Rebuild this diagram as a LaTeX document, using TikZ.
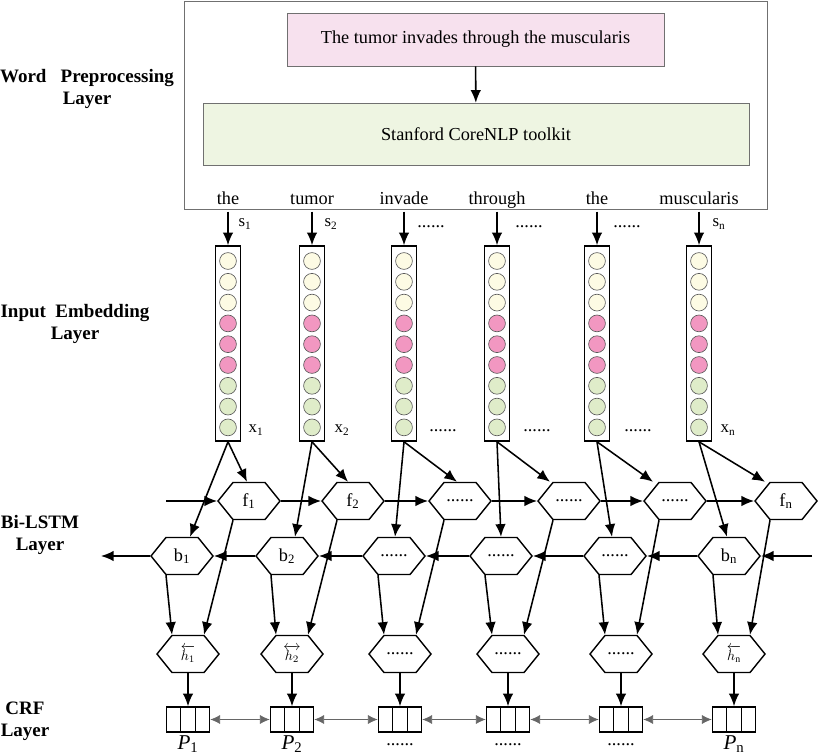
\documentclass[tikz,border=0pt]{standalone}
\usepackage{amsmath}
\usepackage{fontspec}
\setmainfont{Liberation Serif}
\usepackage{tikz}
\usetikzlibrary{positioning, calc, shapes.symbols, arrows.meta}
\definecolor{SentPink}{HTML}{F7E1EE}
\definecolor{ToolGreen}{HTML}{EEF5E2}
\definecolor{DotYellow}{HTML}{FDFBE4}
\definecolor{DotPink}{HTML}{F297C1}
\definecolor{DotGreen}{HTML}{DFECC9}
\definecolor{FrameGray}{HTML}{707070}
\newcommand{\sixdots}{......}

\tikzset{
  txt/.style={font=\fontsize{13}{15}\selectfont, inner sep=1pt},
  word/.style={txt, text height=9pt, text depth=3.5pt, anchor=base},
  layer/.style={font=\fontsize{13.5}{15.6}\selectfont\bfseries, align=center, inner sep=0pt},
  sub/.style={font=\fontsize{12}{12}\selectfont, inner sep=0pt},
  arr/.style={line width=1.1pt, -{Latex[length=9pt,width=7.5pt]}},
  cell/.style={draw=black!65, line width=0.45pt, circle, minimum size=0.42cm, inner sep=0pt},
  col/.style={draw, line width=1.1pt, minimum width=0.625cm, minimum height=4.875cm, inner sep=0pt},
  hexa/.style={draw, line width=1pt, fill=white, signal, signal to=west and east,
    signal pointer angle=102, minimum width=1.55cm, minimum height=0.925cm, inner sep=0pt,
    font=\fontsize{13}{15}\selectfont},
  crf/.style={draw, line width=1.1pt, minimum width=1.075cm, minimum height=0.625cm, inner sep=0pt},
  link/.style={line width=0.55pt, draw=black!60,
    {Latex[length=7pt,width=6.5pt]}-{Latex[length=7pt,width=6.5pt]}}
}

\begin{document}
\begin{tikzpicture}[x=0.025cm, y=-0.025cm]
  \useasboundingbox (0,0) rectangle (820,754);
  %% layer names
  \node[layer] at (87,89) {Word\enspace\ Preprocessing\\Layer};
  \node[layer] at (75,324) {Input\enspace Embedding\\Layer};
  \node[layer] at (40,535) {Bi-LSTM\\Layer};
  \node[layer] at (25,721) {CRF\\Layer};

  %% word preprocessing
  \draw[FrameGray, line width=0.7pt] (184,1) rectangle (767,209);
  \node[draw=FrameGray, fill=SentPink, txt, minimum width=9.425cm, minimum height=1.325cm]
    (sent) at (475.5,39.5) {The tumor invades through the muscularis};
  \node[draw=FrameGray, fill=ToolGreen, txt, minimum width=13.65cm, minimum height=1.55cm]
    (tool) at (476,134) {Stanford CoreNLP toolkit};
  \draw[arr] (sent) -- (tool);

  %% input embedding
  \foreach \i/\x/\w in {1/228/the, 2/312/tumor, 3/404/invade, 4/497/through, 5/597/the, 6/699/muscularis} {
    \node[word] (w\i) at (\x,205) {\w};
    \node[col] (c\i) at (\x,343.5) {};
    \foreach \k/\clr in {1/DotYellow, 2/DotYellow, 3/DotYellow, 4/DotPink, 5/DotPink, 6/DotPink,
                         7/DotGreen, 8/DotGreen, 9/DotGreen}
      \node[cell, fill=\clr] (c\i-\k) at (\x,{261+20.8*(\k-1)}) {};
    \draw[arr] (w\i.south) -- (c\i.north);
  }
  \node[sub] at (245,224) {s\textsubscript{1}};
  \node[sub] at (331,224) {s\textsubscript{2}};
  \node[txt] at (431,227) {\sixdots};
  \node[txt] at (529,227) {\sixdots};
  \node[txt] at (627,227) {\sixdots};
  \node[sub] at (719,224) {s\textsubscript{n}};
  \node[sub] at (256,430) {x\textsubscript{1}};
  \node[sub] at (342,430) {x\textsubscript{2}};
  \node[txt] at (443,431) {\sixdots};
  \node[txt] at (537,431) {\sixdots};
  \node[txt] at (638,431) {\sixdots};
  \node[sub] at (728,430) {x\textsubscript{n}};

  %% Bi-LSTM
  \foreach \i/\x/\t in {1/249/f\textsubscript{1}, 2/353/f\textsubscript{2}, 3/460/\sixdots,
                        4/569/\sixdots, 5/675/\sixdots, 6/786/f\textsubscript{n}}
    \node[hexa] (f\i) at (\x,501) {\t};
  \foreach \i/\x/\t in {1/182/b\textsubscript{1}, 2/287/b\textsubscript{2}, 3/394/\sixdots,
                        4/501/\sixdots, 5/615/\sixdots, 6/729/b\textsubscript{n}}
    \node[hexa] (b\i) at (\x,556) {\t};
  \coordinate (fin) at (166,501);
  \coordinate (bin) at (812,556);
  \coordinate (bout) at (101,556);
  \draw[arr] (fin) -- (f1.west);
  \draw[arr] (bin) -- (b6.east);
  \draw[arr] (b1.west) -- (bout);
  \foreach \i [evaluate=\i as \j using int(\i+1)] in {1,2,3,4,5} {
    \draw[arr] (f\i.east) -- (f\j.west);
    \draw[arr] (b\j.west) -- (b\i.east);
  }
  \foreach \i/\df/\db in {1/-2/8, 2/-5/8, 3/-3/1, 4/-19/0, 5/-22/-3, 6/-21/-2} {
    \draw[arr] (c\i.south) -- ($(f\i.north)+(\df,0)$);
    \draw[arr] (c\i.south) -- ($(b\i.north)+(\db,0)$);
  }

  %% outputs and CRF
  \foreach \i/\x/\t in {1/188/{\fontsize{10}{10}\selectfont$\overleftarrow{h_{1}}$},
                        2/292/{\fontsize{10}{10}\selectfont$\overleftrightarrow{h_{2}}$},
                        3/400/\sixdots, 4/508/\sixdots, 5/621/\sixdots,
                        6/734/{\fontsize{10}{10}\selectfont$\overleftarrow{h_{\mathrm{n}}}$}} {
    \node[hexa] (h\i) at (\x,654) {\t};
    \node[crf] (p\i) at (\x,719.5) {};
    \draw[line width=1pt] ($(p\i.north west)!1/3!(p\i.north east)$) -- ($(p\i.south west)!1/3!(p\i.south east)$);
    \draw[line width=1pt] ($(p\i.north west)!2/3!(p\i.north east)$) -- ($(p\i.south west)!2/3!(p\i.south east)$);
    \draw[arr] ($(b\i.south)+(-16,0)$) -- ($(h\i.north)+(-16,0)$);
    \draw[arr] ($(f\i.south)+(-16,0)$) -- ($(h\i.north)+(16,0)$);
    \draw[arr] (h\i.south) -- (p\i.north);
  }
  \foreach \i [evaluate=\i as \j using int(\i+1)] in {1,2,3,4,5}
    \draw[link] (p\i.east) -- (p\j.west);
  \node[txt, font=\fontsize{15}{16}\selectfont] at (188,744) {\textit{P}\textsubscript{1}};
  \node[txt, font=\fontsize{15}{16}\selectfont] at (292,744) {\textit{P}\textsubscript{2}};
  \node[txt] at (400,745) {\sixdots};
  \node[txt] at (508,745) {\sixdots};
  \node[txt] at (621,745) {\sixdots};
  \node[txt, font=\fontsize{15}{16}\selectfont] at (734,744) {\textit{P}\textsubscript{n}};
\end{tikzpicture}
\end{document}
